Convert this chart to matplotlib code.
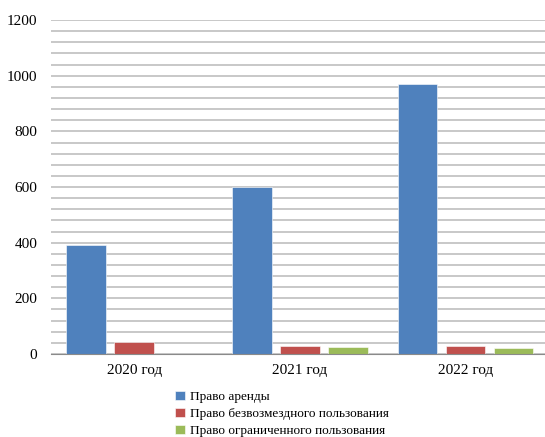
import numpy as np
import matplotlib.pyplot as plt

plt.rcParams['font.family'] = ['Liberation Serif', 'DejaVu Serif']

years = ['2020 год', '2021 год', '2022 год']
arenda = [392, 600, 970]
bezvozm = [43, 29, 29]
ogranich = [0, 25, 22]
names = ['Право аренды', 'Право безвозмездного пользования', 'Право ограниченного пользования']
colors = ['#4f81bd', '#c0504d', '#9bbb59']

fig = plt.figure(figsize=(5.45, 4.37), dpi=100)
ax = fig.add_axes([0.094, 0.19, 0.906, 0.764])

x = np.arange(len(years))
w = 0.24
step = 0.29
for i, (vals, c, n) in enumerate(zip([arenda, bezvozm, ogranich], colors, names)):
    ax.bar(x + (i - 1) * step, vals, w, color=c, label=n, zorder=3,
           edgecolor='white', linewidth=0.4)

ax.set_ylim(0, 1200)
ax.set_xlim(-0.5, 2.48)
ax.set_yticks(range(0, 1201, 200))
ax.set_yticks(range(0, 1201, 40), minor=True)
ax.grid(axis='y', which='both', color='#c4c4c4', linewidth=1.3, zorder=0)
ax.set_xticks(x)
ax.set_xticklabels(years, fontsize=11)
ax.tick_params(axis='y', which='both', length=0, labelsize=11, pad=10)
ax.tick_params(axis='x', length=0, pad=7)
for s in ['top', 'right', 'left']:
    ax.spines[s].set_visible(False)
ax.spines['bottom'].set_color('#8a8a8a')
ax.spines['bottom'].set_zorder(4)

fig.legend(loc='upper left', bbox_to_anchor=(0.322, 0.105), frameon=False,
           fontsize=9.5, handlelength=0.7, handleheight=0.7, handletextpad=0.4,
           labelspacing=0.35, borderpad=0, borderaxespad=0)

fig.savefig('out.png', dpi=100)
